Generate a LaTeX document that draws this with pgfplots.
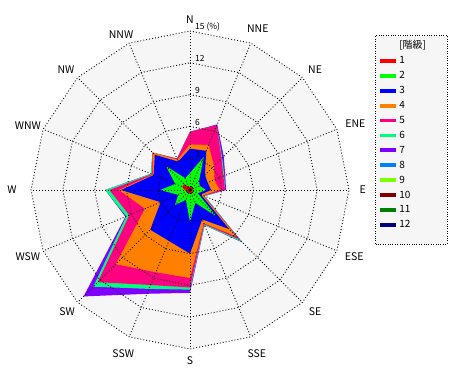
\documentclass[border=0pt]{standalone}
\usepackage{fontspec}
\setmainfont{Noto Sans CJK JP}
\usepackage{pgfplots}
\usepackage{pgfplotstable}
\pgfplotsset{compat=1.18}
\definecolor{c1}{HTML}{FF0000}
\definecolor{c2}{HTML}{00FF00}
\definecolor{c3}{HTML}{0000FF}
\definecolor{c4}{HTML}{FF8000}
\definecolor{c5}{HTML}{FF0080}
\definecolor{c6}{HTML}{00FF80}
\definecolor{c7}{HTML}{8000FF}
\definecolor{c8}{HTML}{0080FF}
\definecolor{c9}{HTML}{80FF00}
\definecolor{c10}{HTML}{800000}
\definecolor{c11}{HTML}{008000}
\definecolor{c12}{HTML}{000080}
\definecolor{bggray}{HTML}{F6F6F6}

% cumulative frequency (%) by direction (bearing, clockwise from N)
\pgfplotstableread{
b L1 L2 L3 L4 L5 L6 L7
0 0.3 1.6 3.9 4.3 5.5 5.5 5.5
22.5 0.3 3.4 4.0 4.6 6.6 6.6 6.7
45 0.3 1.2 2.0 3.2 4.2 4.3 4.5
67.5 0.3 1.0 1.8 2.5 3.4 3.5 3.6
90 0.3 1.5 2.0 2.8 3.3 3.3 3.4
112.5 0.2 0.8 1.1 1.3 1.4 1.5 1.5
135 0.4 3.5 5.2 6.2 6.6 6.9 7.0
157.5 0.3 1.3 3.0 3.4 3.5 3.6 3.6
180 0.4 3.0 6.0 8.3 9.2 9.4 9.7
202.5 0.3 1.0 5.2 8.4 9.7 10.1 10.6
225 0.3 2.0 5.3 9.9 12.3 12.9 14.2
247.5 0.3 1.2 3.0 4.6 6.2 6.5 6.6
270 0.5 2.8 6.5 6.7 7.6 8.0 8.0
292.5 0.8 1.5 3.7 3.8 3.9 4.0 4.0
315 0.8 3.2 4.7 5.0 5.0 5.0 5.0
337.5 0.3 1.2 2.9 3.1 3.2 3.2 3.2
360 0.3 1.6 3.9 4.3 5.5 5.5 5.5
}\wind

\pgfplotstableread{
b r3 r6 r9 r12 r15
0 3 6 9 12 15
22.5 3 6 9 12 15
45 3 6 9 12 15
67.5 3 6 9 12 15
90 3 6 9 12 15
112.5 3 6 9 12 15
135 3 6 9 12 15
157.5 3 6 9 12 15
180 3 6 9 12 15
202.5 3 6 9 12 15
225 3 6 9 12 15
247.5 3 6 9 12 15
270 3 6 9 12 15
292.5 3 6 9 12 15
315 3 6 9 12 15
337.5 3 6 9 12 15
360 3 6 9 12 15
}\rings

\begin{document}
\begin{tikzpicture}
\path[use as bounding box] (0,0) rectangle (470bp,380bp);
\begin{axis}[
  at={(190bp,190bp)}, anchor=center,
  scale only axis, width=318bp, height=318bp,
  xmin=-15, xmax=15, ymin=-15, ymax=15,
  hide axis, clip=false,
  gridline/.style={black, line width=0.9bp, dash pattern=on 0.9bp off 2.1bp},
  legend image code/.code={\draw[solid, line width=3.8bp, #1] (0bp,0bp) -- (16bp,0bp);},
  legend style={at={(rel axis cs:1.082,0.987)}, anchor=north west,
    draw=black, line width=0.9bp, dash pattern=on 0.9bp off 1.5bp,
    fill=bggray, font=\fontsize{10bp}{12bp}\selectfont,
    inner xsep=3bp, inner ysep=4bp, row sep=4.2bp,
    nodes={inner sep=1bp}},
  legend cell align=left,
]
% background
\addplot[fill=bggray, draw=none, forget plot] table[x expr={\thisrow{r15}*sin(\thisrow{b})}, y expr={\thisrow{r15}*cos(\thisrow{b})}] {\rings} -- cycle;
% stacked polygons, outermost first
\addplot[fill=c7, draw=none, forget plot] table[x expr={\thisrow{L7}*sin(\thisrow{b})}, y expr={\thisrow{L7}*cos(\thisrow{b})}] {\wind} -- cycle;
\addplot[fill=c6, draw=none, forget plot] table[x expr={\thisrow{L6}*sin(\thisrow{b})}, y expr={\thisrow{L6}*cos(\thisrow{b})}] {\wind} -- cycle;
\addplot[fill=c5, draw=none, forget plot] table[x expr={\thisrow{L5}*sin(\thisrow{b})}, y expr={\thisrow{L5}*cos(\thisrow{b})}] {\wind} -- cycle;
\addplot[fill=c4, draw=none, forget plot] table[x expr={\thisrow{L4}*sin(\thisrow{b})}, y expr={\thisrow{L4}*cos(\thisrow{b})}] {\wind} -- cycle;
\addplot[fill=c3, draw=none, forget plot] table[x expr={\thisrow{L3}*sin(\thisrow{b})}, y expr={\thisrow{L3}*cos(\thisrow{b})}] {\wind} -- cycle;
\addplot[fill=c2, draw=none, forget plot] table[x expr={\thisrow{L2}*sin(\thisrow{b})}, y expr={\thisrow{L2}*cos(\thisrow{b})}] {\wind} -- cycle;
\addplot[fill=c1, draw=none, forget plot] table[x expr={\thisrow{L1}*sin(\thisrow{b})}, y expr={\thisrow{L1}*cos(\thisrow{b})}] {\wind} -- cycle;
% grid rings
\addplot[gridline, forget plot] table[x expr={\thisrow{r3}*sin(\thisrow{b})}, y expr={\thisrow{r3}*cos(\thisrow{b})}] {\rings};
\addplot[gridline, forget plot] table[x expr={\thisrow{r6}*sin(\thisrow{b})}, y expr={\thisrow{r6}*cos(\thisrow{b})}] {\rings};
\addplot[gridline, forget plot] table[x expr={\thisrow{r9}*sin(\thisrow{b})}, y expr={\thisrow{r9}*cos(\thisrow{b})}] {\rings};
\addplot[gridline, forget plot] table[x expr={\thisrow{r12}*sin(\thisrow{b})}, y expr={\thisrow{r12}*cos(\thisrow{b})}] {\rings};
\addplot[gridline, forget plot] table[x expr={\thisrow{r15}*sin(\thisrow{b})}, y expr={\thisrow{r15}*cos(\thisrow{b})}] {\rings};
% spokes
\pgfplotsinvokeforeach{0,22.5,45,67.5,90,112.5,135,157.5,180,202.5,225,247.5,270,292.5,315,337.5}{
\addplot[gridline, forget plot] table[row sep=\\, x expr={\thisrow{r}*sin(\thisrow{b})}, y expr={\thisrow{r}*cos(\thisrow{b})}] {b r\\ #1 0\\ #1 15\\};
}
\addplot[only marks, mark=*, mark size=1.6bp, black, forget plot] coordinates {(0,0)};
% legend
\addlegendimage{empty legend}\addlegendentry{\makebox[44bp][l]{[階級]}}
\addlegendimage{c1}\addlegendentry{1}
\addlegendimage{c2}\addlegendentry{2}
\addlegendimage{c3}\addlegendentry{3}
\addlegendimage{c4}\addlegendentry{4}
\addlegendimage{c5}\addlegendentry{5}
\addlegendimage{c6}\addlegendentry{6}
\addlegendimage{c7}\addlegendentry{7}
\addlegendimage{c8}\addlegendentry{8}
\addlegendimage{c9}\addlegendentry{9}
\addlegendimage{c10}\addlegendentry{10}
\addlegendimage{c11}\addlegendentry{11}
\addlegendimage{c12}\addlegendentry{12}
\addlegendimage{empty legend}\addlegendentry{\rule{0pt}{2bp}}
% direction labels
\begin{scope}[every node/.style={font=\fontsize{10.5bp}{12bp}\selectfont, inner sep=0pt}]
\node at (axis cs:0,16.1) {N};
\node at (axis cs:6.4,15.2) {NNE};
\node at (axis cs:11.8,11.4) {NE};
\node at (axis cs:15.6,6.3) {ENE};
\node at (axis cs:16.3,0) {E};
\node at (axis cs:15.5,-6.3) {ESE};
\node at (axis cs:11.8,-11.5) {SE};
\node at (axis cs:6.3,-15.4) {SSE};
\node at (axis cs:0,-16.1) {S};
\node at (axis cs:-6.3,-15.4) {SSW};
\node at (axis cs:-11.6,-11.5) {SW};
\node at (axis cs:-15.3,-6.3) {WSW};
\node at (axis cs:-16.8,0) {W};
\node at (axis cs:-15.3,6.1) {WNW};
\node at (axis cs:-11.7,11.4) {NW};
\node at (axis cs:-6.5,14.7) {NNW};
\end{scope}
\begin{scope}[every node/.style={font=\fontsize{8.5bp}{10bp}\selectfont, inner sep=0pt, anchor=base west, xshift=5bp, yshift=1bp}]
\node at (axis cs:0,3) {3};
\node at (axis cs:0,6) {6};
\node at (axis cs:0,9) {9};
\node at (axis cs:0,12) {12};
\node at (axis cs:0,15) {15 (\%)};
\end{scope}
\end{axis}
\end{tikzpicture}
\end{document}
